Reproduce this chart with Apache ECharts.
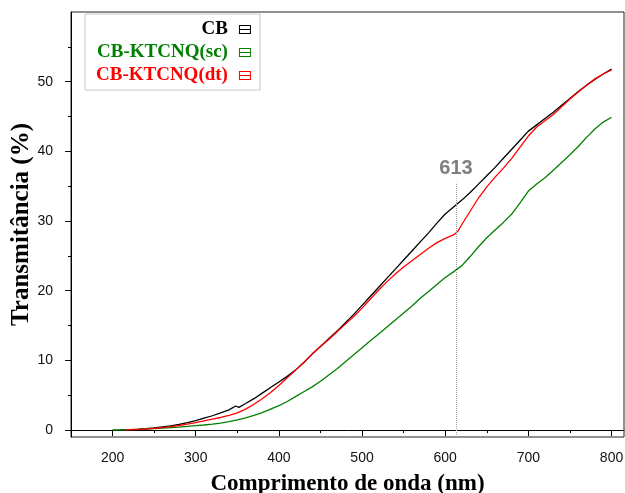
<!DOCTYPE html>
<html>
<head>
<meta charset="utf-8">
<script src="https://cdn.jsdelivr.net/npm/echarts@6/dist/echarts.min.js"></script>
<style>
html,body{margin:0;padding:0;background:#fff;}
#chart{width:625px;height:493px;}
</style>
</head>
<body>
<div id="chart"></div>
<script>
// ---- data ----
var seriesNames = ['CB', 'CB-KTCNQ(sc)', 'CB-KTCNQ(dt)'];

var cbWl = [200,210,220,230,240,250,260,270,280,290,300,310,320,330,340,348,352,360,370,380,390,400,410,420,430,440,450,460,470,480,490,500,510,520,530,540,550,560,570,580,590,600,610,620,630,640,650,660,670,680,690,700,710,720,730,740,750,760,770,780,790,800];
var cbT  = [0,0.02,0.05,0.1,0.2,0.3,0.45,0.6,0.8,1.05,1.35,1.7,2.05,2.45,2.9,3.45,3.25,3.8,4.5,5.3,6.1,6.9,7.7,8.6,9.7,10.9,12.0,13.1,14.2,15.4,16.6,17.9,19.2,20.5,21.8,23.1,24.4,25.7,27.0,28.3,29.7,31.0,32.0,33.0,34.1,35.3,36.5,37.7,39.0,40.3,41.6,42.9,43.8,44.7,45.6,46.6,47.6,48.6,49.5,50.3,51.1,51.8];

var scWl = [200,210,220,230,240,250,260,270,280,290,300,310,320,330,340,350,360,370,380,390,400,410,420,430,440,450,460,470,480,490,500,510,520,530,540,550,560,570,580,590,600,610,620,630,640,650,660,670,680,690,700,710,720,730,740,750,760,770,780,790,800];
var scT  = [0,0.02,0.05,0.1,0.15,0.2,0.27,0.35,0.43,0.52,0.62,0.72,0.85,1.0,1.2,1.45,1.75,2.1,2.5,3.0,3.5,4.1,4.8,5.5,6.2,7.0,7.9,8.8,9.8,10.8,11.8,12.8,13.8,14.8,15.8,16.8,17.8,18.9,19.9,20.9,21.9,22.7,23.6,24.9,26.3,27.6,28.7,29.8,31.0,32.6,34.3,35.3,36.2,37.3,38.4,39.5,40.7,42.0,43.2,44.2,44.9];

var dtWl = [215,220,230,240,250,260,270,280,290,300,310,320,330,340,350,360,370,380,390,400,410,420,430,440,450,460,470,480,490,500,510,520,530,540,550,560,570,580,590,600,610,615,620,630,640,650,660,670,680,690,700,710,720,730,740,750,760,770,780,790,800];
var dtT  = [0,0.05,0.1,0.15,0.25,0.35,0.5,0.65,0.85,1.05,1.3,1.55,1.8,2.1,2.45,3.0,3.7,4.5,5.4,6.4,7.5,8.6,9.7,10.9,12.0,13.0,14.1,15.2,16.3,17.5,18.8,20.1,21.3,22.4,23.4,24.3,25.2,26.1,26.9,27.5,28.0,28.5,29.5,31.4,33.3,34.9,36.3,37.6,39.0,40.6,42.2,43.5,44.4,45.3,46.4,47.5,48.5,49.5,50.4,51.1,51.7];

var xMajorTicks = [200,300,400,500,600,700,800];
var xMinorTicks = [150,250,350,450,550,650,750];
var yMajorTicks = [0,10,20,30,40,50];
var yMinorTicks = [5,15,25,35,45,55];
var markerWl = 613;
var markerTop = 35.5;

function pairs(xs, ys){ return xs.map(function(x,i){ return [x, ys[i]]; }); }

var serif = '"Liberation Serif","Times New Roman",serif';
var sans = '"Liberation Sans",Arial,sans-serif';
var iconPath = 'path://M0,0H12V9H0Z M1,1V8H11V1Z M1,4H11V5H1Z';

var chart = echarts.init(document.getElementById('chart'), null, {renderer:'canvas'});
var option = {
  animation: false,
  backgroundColor: '#fff',
  grid: {left: 71, right: 1, top: 12, bottom: 56, containLabel: false, outerBoundsMode: 'none',
         show: true, borderColor: '#222', borderWidth: 1, backgroundColor: 'transparent'},
  legend: {
    orient: 'vertical', align: 'right', left: 85, top: 14,
    itemWidth: 12, itemHeight: 9, itemGap: 4,
    padding: [6, 9, 5, 11],
    backgroundColor: '#fff', borderColor: '#c8c8c8', borderWidth: 1,
    icon: iconPath,
    textStyle: {fontFamily: serif, fontSize: 19, fontWeight: 'bold', padding: [0, 6, 0, 0]},
    data: [
      {name: seriesNames[0], textStyle: {color: '#000000'}},
      {name: seriesNames[1], textStyle: {color: '#008000'}},
      {name: seriesNames[2], textStyle: {color: '#ff0000'}}
    ]
  },
  xAxis: [{
    type: 'value', min: 150, max: 815,
    name: 'Comprimento de onda (nm)', nameLocation: 'middle', nameGap: 36,
    nameTextStyle: {fontFamily: serif, fontSize: 23, fontWeight: 'bold', color: '#000'},
    axisLine: {lineStyle: {color: '#000', width: 1}},
    axisTick: {show: true, inside: false, length: 6, customValues: xMajorTicks, lineStyle: {color: '#000'}},
    axisLabel: {customValues: xMajorTicks, fontFamily: sans, fontSize: 14, color: '#111', margin: 14},
    splitLine: {show: false}
  }, {
    type: 'value', min: 150, max: 815, position: 'bottom',
    axisLine: {show: false},
    axisTick: {show: true, inside: false, length: 3, customValues: xMinorTicks, lineStyle: {color: '#000'}},
    axisLabel: {show: false},
    splitLine: {show: false}
  }],
  yAxis: [{
    type: 'value', min: -1, max: 60,
    name: 'Transmitância (%)', nameLocation: 'middle', nameGap: 37, nameMoveOverlap: false,
    nameTextStyle: {fontFamily: serif, fontSize: 25, fontWeight: 'bold', color: '#000'},
    axisLine: {show: true, lineStyle: {color: '#000', width: 1}},
    axisTick: {show: true, inside: false, length: 6, customValues: yMajorTicks, lineStyle: {color: '#000'}},
    axisLabel: {customValues: yMajorTicks, fontFamily: sans, fontSize: 14, color: '#111', margin: 18},
    splitLine: {show: false}
  }, {
    type: 'value', min: -1, max: 60, position: 'left', offset: 0,
    axisLine: {show: false},
    axisTick: {show: true, inside: false, length: 3, customValues: yMinorTicks, lineStyle: {color: '#000'}},
    axisLabel: {show: false},
    splitLine: {show: false}
  }],
  series: [
    {name: seriesNames[0], type: 'line', showSymbol: false, symbol: 'none', data: pairs(cbWl, cbT),
     color: '#000000', lineStyle: {color: '#000000', width: 1.3},
     markLine: {
       silent: true, symbol: ['none','none'],
       lineStyle: {color: '#a0a0a0', type: 'dotted', width: 1},
       label: {show: true, position: 'end', formatter: String(markerWl), color: '#7f7f7f', fontFamily: sans, fontSize: 20, fontWeight: 'bold', distance: 4},
       data: [[{coord: [markerWl, -1]}, {coord: [markerWl, markerTop]}]]
     }},
    {name: seriesNames[1], type: 'line', showSymbol: false, symbol: 'none', data: pairs(scWl, scT),
     color: '#008000', lineStyle: {color: '#008000', width: 1.3}},
    {name: seriesNames[2], type: 'line', showSymbol: false, symbol: 'none', data: pairs(dtWl, dtT),
     color: '#ff0000', lineStyle: {color: '#ff0000', width: 1.3}}
  ]
};
chart.setOption(option);
</script>
</body>
</html>
